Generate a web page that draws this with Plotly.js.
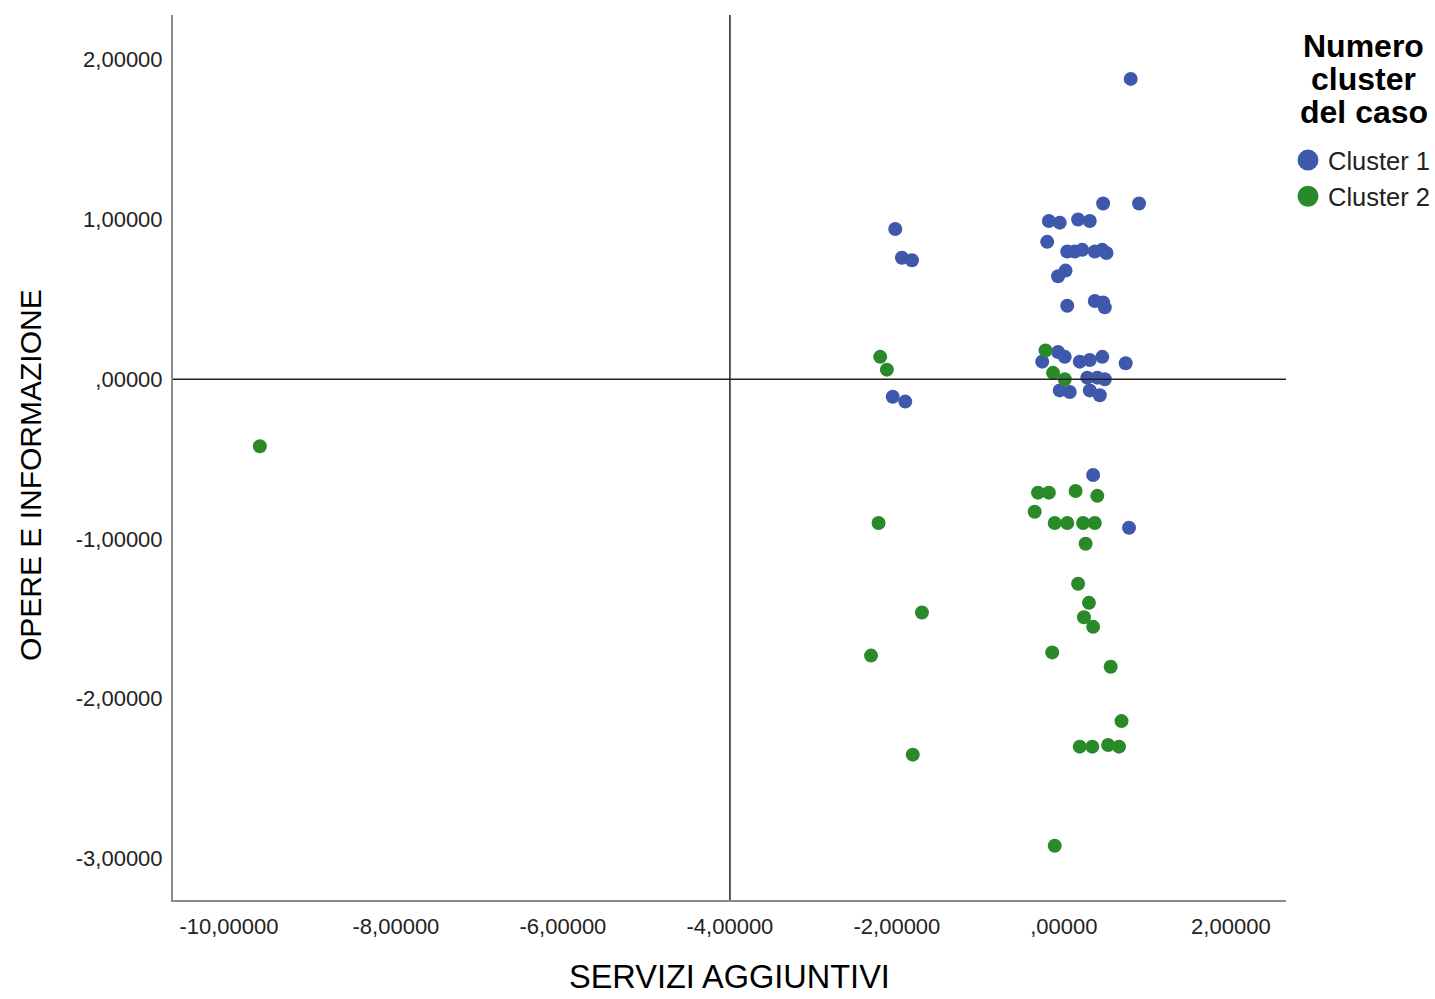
<!DOCTYPE html>
<html>
<head>
<meta charset="utf-8">
<script src="https://cdn.plot.ly/plotly-3.0.1.min.js"></script>
<style>html,body{margin:0;padding:0;background:#fff;}#chart{width:1435px;height:999px;}</style>
</head>
<body>
<div id="chart"></div>
<script>
// Cluster 1 (blue)
const cluster1X = [0.80, 0.47, 0.90, -0.18, -0.05, 0.17, 0.31, -0.20, 0.04, 0.13, 0.22, 0.37, 0.46, 0.51,
  -0.07, 0.02, 0.04, 0.37, 0.47, 0.49, -0.26, -0.07, 0.01, 0.19, 0.31, 0.46, 0.74,
  -0.05, 0.07, 0.28, 0.40, 0.49, 0.31, 0.43, 0.35, 0.78, -2.02, -1.94, -1.82, -2.05, -1.90];
const cluster1Y = [1.88, 1.10, 1.10, 0.99, 0.98, 1.00, 0.99, 0.86, 0.80, 0.80, 0.81, 0.80, 0.81, 0.79,
  0.645, 0.68, 0.46, 0.49, 0.48, 0.45, 0.11, 0.17, 0.14, 0.11, 0.12, 0.14, 0.10,
  -0.07, -0.08, 0.01, 0.01, 0.00, -0.07, -0.10, -0.60, -0.93, 0.94, 0.76, 0.745, -0.11, -0.14];
// Cluster 2 (green)
const cluster2X = [-0.22, -0.13, 0.01, -0.31, -0.18, 0.14, 0.40, -0.35, -0.11, 0.04, 0.23, 0.37, 0.26,
  0.17, 0.30, 0.24, 0.35, -0.14, 0.56, 0.69, 0.19, 0.34, 0.53, 0.66,
  -2.20, -2.12, -9.63, -2.22, -1.70, -2.31, -1.81, -0.11];
const cluster2Y = [0.18, 0.04, 0.00, -0.71, -0.71, -0.70, -0.73, -0.83, -0.90, -0.90, -0.90, -0.90, -1.03,
  -1.28, -1.40, -1.49, -1.55, -1.71, -1.80, -2.14, -2.30, -2.30, -2.29, -2.30,
  0.14, 0.06, -0.42, -0.90, -1.46, -1.73, -2.35, -2.92];

const xTickVals = [-10, -8, -6, -4, -2, 0, 2];
const xTickText = ["-10,00000", "-8,00000", "-6,00000", "-4,00000", "-2,00000", ",00000", "2,00000"];
const yTickVals = [2, 1, 0, -1, -2, -3];
const yTickText = ["2,00000", "1,00000", ",00000", "-1,00000", "-2,00000", "-3,00000"];
const seriesNames = ["Cluster 1", "Cluster 2"];
const legendTitleLines = ["Numero", "cluster", "del caso"];
const xTitle = 'SERVIZI AGGIUNTIVI';
const yTitle = 'OPERE E INFORMAZIONE';
const refX = -4;
const refY = 0;

const BLUE = '#3e58ac';
const GREEN = '#2a8a2a';
const FONT = 'Liberation Sans, Arial, sans-serif';

const traces = [
  {x: cluster1X, y: cluster1Y, type: 'scatter', mode: 'markers', name: seriesNames[0], showlegend: false,
   marker: {color: BLUE, size: 14}},
  {x: cluster2X, y: cluster2Y, type: 'scatter', mode: 'markers', name: seriesNames[1], showlegend: false,
   marker: {color: GREEN, size: 14}},
  {x: [null], y: [null], type: 'scatter', mode: 'markers', name: seriesNames[0], showlegend: true,
   marker: {color: BLUE, size: 16, line: {color: BLUE, width: 5}}},
  {x: [null], y: [null], type: 'scatter', mode: 'markers', name: seriesNames[1], showlegend: true,
   marker: {color: GREEN, size: 16, line: {color: GREEN, width: 5}}}
];

const titleYs = [46, 79, 112];
const annotations = legendTitleLines.map((t, i) => ({
  text: '<b>' + t + '</b>', showarrow: false,
  xref: 'paper', yref: 'paper',
  x: (1364 - 173) / 1113, y: (900 - titleYs[i]) / 885,
  xanchor: 'center', yanchor: 'middle',
  font: {size: 32, color: '#000', family: FONT}
}));
annotations.push({
  text: yTitle, showarrow: false, textangle: -90,
  xref: 'paper', yref: 'paper',
  x: (30 - 173) / 1113, y: (900 - 475) / 885,
  xanchor: 'center', yanchor: 'middle',
  font: {size: 30, color: '#000', family: FONT}
});
annotations.push({
  text: xTitle, showarrow: false,
  xref: 'paper', yref: 'paper',
  x: 0.5, y: (900 - 977) / 885,
  xanchor: 'center', yanchor: 'middle',
  font: {size: 32.5, color: '#000', family: FONT}
});

const layout = {
  width: 1435, height: 999,
  margin: {l: 173, r: 149, t: 15, b: 99},
  paper_bgcolor: '#fff', plot_bgcolor: '#fff',
  font: {family: FONT, color: '#222'},
  xaxis: {
    range: [-10.67, 2.66], showgrid: false, zeroline: false,
    showline: true, linecolor: '#8c8c8c', linewidth: 2,
    tickvals: xTickVals, ticktext: xTickText,
    ticks: 'outside', ticklen: 6, tickcolor: 'rgba(0,0,0,0)',
    tickfont: {size: 22, color: '#222'}
  },
  yaxis: {
    range: [-3.26, 2.28], showgrid: false, zeroline: false,
    showline: true, linecolor: '#8c8c8c', linewidth: 2,
    tickvals: yTickVals, ticktext: yTickText,
    ticks: 'outside', ticklen: 4, tickcolor: 'rgba(0,0,0,0)',
    tickfont: {size: 22, color: '#222'}
  },
  shapes: [
    {type: 'line', xref: 'x', yref: 'paper', x0: refX, x1: refX, y0: 0, y1: 1, line: {color: '#222', width: 1.5}},
    {type: 'line', xref: 'paper', yref: 'y', x0: 0, x1: 1, y0: refY, y1: refY, line: {color: '#222', width: 1.5}}
  ],
  annotations: annotations,
  legend: {
    xref: 'container', yref: 'container',
    x: 1288 / 1435, xanchor: 'left', y: 1 - 137 / 999, yanchor: 'top',
    font: {size: 25.5, color: '#222', family: FONT},
    itemwidth: 30, tracegroupgap: 0, bgcolor: 'rgba(0,0,0,0)'
  }
};

Plotly.newPlot('chart', traces, layout, {displayModeBar: false, staticPlot: true});
</script>
</body>
</html>
